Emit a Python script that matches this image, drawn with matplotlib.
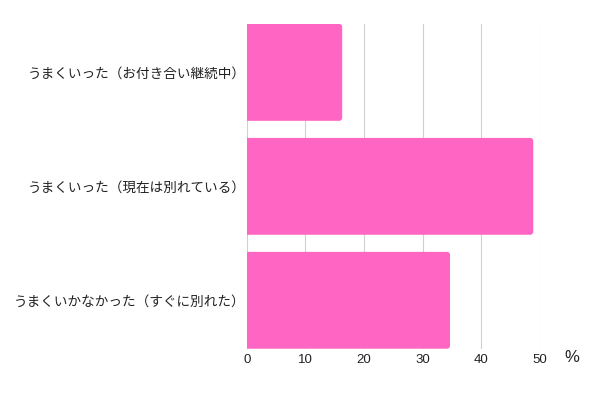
import matplotlib
matplotlib.use("Agg")
import matplotlib.pyplot as plt
from matplotlib.patches import FancyBboxPatch

plt.rcParams['font.family'] = ['Noto Sans CJK JP', 'DejaVu Sans']

categories = ["うまくいった（お付き合い継続中）",
              "うまくいった（現在は別れている）",
              "うまくいかなかった（すぐに別れた）"]
values = [16.3, 48.9, 34.7]
xticks = [0, 10, 20, 30, 40, 50]

fig = plt.figure(figsize=(6, 4), dpi=100)
ax = fig.add_axes([246.7/600, 1 - 348.7/400, (539.7-246.7)/600, (348.7-24)/400])

ypos = list(range(len(categories)))
bars = ax.barh(ypos, values, height=0.85, color="#ff66c4", zorder=2)
ax.set_ylim(len(categories) - 1 + 0.425, -0.425)
ax.set_xlim(0, 50)

# round the right-hand corners (radius ~3 px), keeping bar geometry from barh
px_x = 50 / 293.0
px_y = 2.85 / 324.7
aspect = px_y / px_x
r = 3 * px_x
for b in bars:
    x0, y0, w, h = b.get_x(), b.get_y(), b.get_width(), b.get_height()
    b.set_visible(False)
    p = FancyBboxPatch((x0, y0 + r * aspect), w - r, h - 2 * r * aspect,
                       boxstyle=f"round,pad={r},rounding_size={r}",
                       mutation_aspect=aspect,
                       facecolor="#ff66c4", edgecolor="none", zorder=2, clip_on=True)
    ax.add_patch(p)

ax.set_xticks(xticks)
ax.set_xticklabels([str(t) for t in xticks], fontsize=9.5, color="#222222", family=['Liberation Sans', 'DejaVu Sans'])
ax.set_yticks(ypos)
ax.set_yticklabels(categories, fontsize=9.8, color="#222222")
ax.tick_params(axis='both', length=0)
ax.tick_params(axis='y', pad=1)
ax.tick_params(axis='x', pad=4)
ax.grid(axis='x', color="#d0d0d0", linewidth=0.8, zorder=0)
for s in ax.spines.values():
    s.set_visible(False)
fig.text(571.7/600, 1 - 358/400, "%", fontsize=12, ha='center', va='center', color="#222222",
         family=['Liberation Sans', 'DejaVu Sans'])

fig.savefig("out.png", dpi=100, facecolor="white")
